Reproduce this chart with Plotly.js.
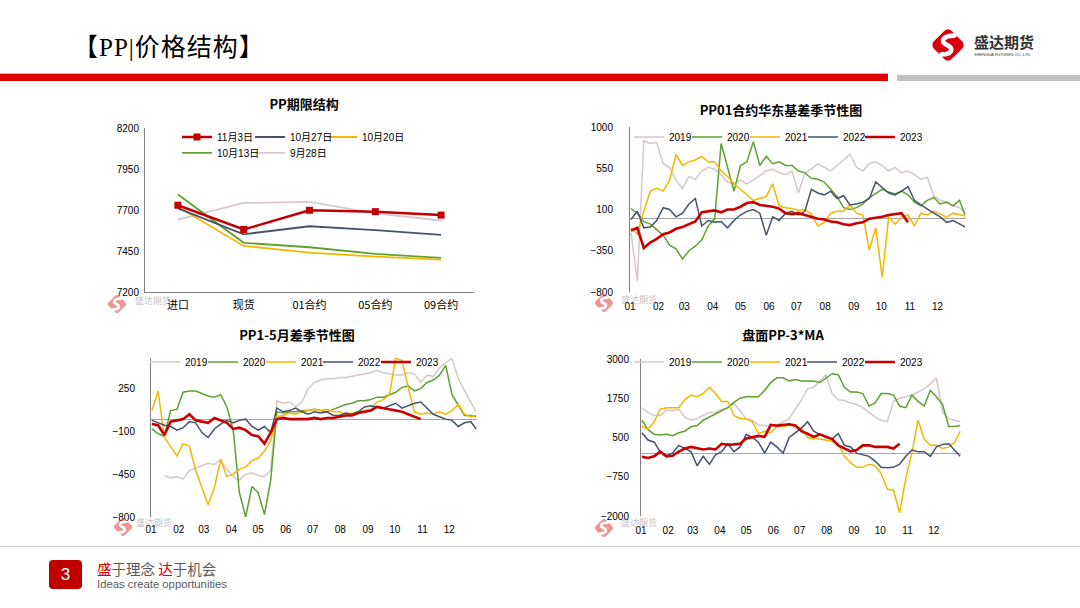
<!DOCTYPE html>
<html><head><meta charset="utf-8">
<script src="https://cdn.plot.ly/plotly-3.0.1.min.js"></script>
<style>
html,body{margin:0;padding:0;background:#fff}
body{width:1080px;height:608px;position:relative;overflow:hidden;font-family:"Noto Sans CJK SC","Liberation Sans",sans-serif}
.chart{position:absolute}
#head-title{position:absolute;left:73px;top:32px;font-size:25px;line-height:31px;letter-spacing:1px;color:#000;font-family:"Liberation Serif","Noto Sans CJK SC",serif;white-space:nowrap}
#bar-red{position:absolute;left:0;top:74px;width:888px;height:7px;background:#e00000}
#bar-red-top{position:absolute;left:0;top:73px;width:888px;height:1px;background:#f2a0a0}
#bar-gray{position:absolute;left:897px;top:75px;width:183px;height:6px;background:#c0c0c0}
#logo{position:absolute;left:927px;top:24px;width:42px;height:42px}
#logo-cn{position:absolute;left:974px;top:33px;font-size:15px;line-height:18px;color:#333;font-weight:bold}
#logo-en{position:absolute;left:974px;top:52px;font-size:4px;line-height:5px;color:#333;font-family:"Liberation Sans",sans-serif;white-space:nowrap}
#foot-line{position:absolute;left:0;top:546px;width:1080px;height:1px;background:#d0d0d0}
#page-no{position:absolute;left:49px;top:560px;width:33px;height:29px;background:#c00000;border-radius:4px;color:#fff;font-family:"Liberation Sans",sans-serif;font-size:17px;line-height:29px;text-align:center}
#slogan{position:absolute;left:97px;top:560px;font-size:14.5px;line-height:17px;color:#595959;white-space:nowrap}
#slogan span{color:#e00000}
#slogan-en{position:absolute;left:97px;top:577px;font-size:11.3px;line-height:14px;color:#595959;font-family:"Liberation Sans",sans-serif;white-space:nowrap}
.wm{position:absolute;width:24px;height:24px;opacity:0.55}
.wmt{position:absolute;font-size:9px;line-height:10px;color:rgba(110,110,110,0.45);white-space:nowrap}
</style></head><body>

<div id="head-title">【PP|价格结构】</div>
<div id="bar-red-top"></div>
<div id="bar-red"></div>
<div id="bar-gray"></div>
<svg id="logo" viewBox="0 0 40 40"><rect x="8" y="8" width="24" height="24" rx="5" transform="rotate(45 20 20)" fill="#d7000f"/><path d="M26,11 C15,11 12,17 19,20 C26,23 24,29 14,29" stroke="#fff" stroke-width="4.5" fill="none" stroke-linecap="round"/></svg>
<div id="logo-cn">盛达期货</div>
<div id="logo-en">SHENGDA FUTURES CO.,LTD.</div>

<div id="c1" class="chart" style="left:100px;top:90px"></div>
<div id="c2" class="chart" style="left:580px;top:95px"></div>
<div id="c3" class="chart" style="left:100px;top:320px"></div>
<div id="c4" class="chart" style="left:580px;top:320px"></div>

<svg class="wm" style="left:105px;top:292px" viewBox="0 0 40 40"><rect x="8" y="8" width="24" height="24" rx="5" transform="rotate(45 20 20)" fill="#e04040"/><path d="M26,11 C15,11 12,17 19,20 C26,23 24,29 14,29" stroke="#fff" stroke-width="4.5" fill="none" stroke-linecap="round"/></svg>
<div class="wmt" style="left:135px;top:296px">盛达期货</div>
<svg class="wm" style="left:592px;top:291px" viewBox="0 0 40 40"><rect x="8" y="8" width="24" height="24" rx="5" transform="rotate(45 20 20)" fill="#e04040"/><path d="M26,11 C15,11 12,17 19,20 C26,23 24,29 14,29" stroke="#fff" stroke-width="4.5" fill="none" stroke-linecap="round"/></svg>
<div class="wmt" style="left:621px;top:295px">盛达期货</div>
<svg class="wm" style="left:111px;top:515px" viewBox="0 0 40 40"><rect x="8" y="8" width="24" height="24" rx="5" transform="rotate(45 20 20)" fill="#e04040"/><path d="M26,11 C15,11 12,17 19,20 C26,23 24,29 14,29" stroke="#fff" stroke-width="4.5" fill="none" stroke-linecap="round"/></svg>
<div class="wmt" style="left:136px;top:518px">盛达期货</div>
<svg class="wm" style="left:592px;top:516px" viewBox="0 0 40 40"><rect x="8" y="8" width="24" height="24" rx="5" transform="rotate(45 20 20)" fill="#e04040"/><path d="M26,11 C15,11 12,17 19,20 C26,23 24,29 14,29" stroke="#fff" stroke-width="4.5" fill="none" stroke-linecap="round"/></svg>
<div class="wmt" style="left:621px;top:518px">盛达期货</div>

<div id="foot-line"></div>
<div id="page-no">3</div>
<div id="slogan"><span>盛</span>于理念 <span>达</span>于机会</div>
<div id="slogan-en">Ideas create opportunities</div>

<script>
// ---------- data: PP term structure ----------
const structCats = ['进口','现货','01合约','05合约','09合约'];
const structNames = ['11月3日','10月27日','10月20日','10月13日','9月28日'];
const structNov3  = [7729,7581,7698,7690,7669];
const structOct27 = [7710,7552,7601,7577,7548];
const structOct20 = [7720,7481,7440,7416,7397];
const structOct13 = [7795,7500,7473,7432,7408];
const structSep28 = [7642,7743,7749,7679,7636];

// ---------- data: seasonal charts (weekly readings) ----------
const years = ['2019','2020','2021','2022','2023'];
const monthLabels = ['01','02','03','04','05','06','07','08','09','10','11','12'];
const weekDates = ['01-02','01-09','01-16','01-23','01-30','02-06','02-13','02-20','02-27','03-06','03-13','03-20','03-27','04-03','04-10','04-17','04-24','05-01','05-08','05-15','05-22','05-29','06-05','06-12','06-19','06-26','07-03','07-10','07-17','07-24','07-31','08-07','08-14','08-21','08-28','09-04','09-11','09-18','09-25','10-02','10-09','10-16','10-23','10-30','11-06','11-13','11-20','11-27','12-04','12-11','12-18','12-25','12-31'];

// PP01 East China basis
const basis2019 = [-150,-680,850,820,830,600,560,420,330,460,430,520,560,540,480,400,380,420,380,420,470,520,540,500,480,520,280,500,540,600,560,520,580,640,700,560,520,600,620,580,520,560,500,520,480,430,450,250,200,180,140,120,60];
const basis2020 = [110,60,-30,-60,-120,-180,-290,-330,-440,-350,-300,-230,-80,0,820,560,300,580,620,840,580,680,600,620,580,580,520,500,440,430,400,320,240,120,100,120,160,230,280,320,290,270,300,260,180,140,200,230,160,180,140,200,40];
const basis2021 = [-100,-170,80,300,330,300,420,700,580,620,640,680,620,620,520,460,380,320,260,200,220,240,380,140,120,110,90,100,50,-80,-40,60,80,80,150,60,40,-340,-100,-640,20,-60,20,40,-80,60,40,80,50,20,60,40,30];
const basis2022 = [-10,80,-100,-90,-20,120,100,20,60,160,220,-80,-20,-40,-30,-100,-20,40,80,100,60,-180,20,-20,60,80,40,80,320,280,260,300,220,250,150,160,180,220,400,340,280,260,300,350,200,150,100,60,20,-40,-20,-60,-90];
const basis2023 = [-130,-100,-320,-260,-220,-170,-150,-110,-90,-60,-30,70,80,90,70,100,100,130,170,180,150,140,130,110,60,50,60,40,20,0,-10,-30,-40,-60,-70,-50,-40,0,10,20,40,50,60,-40,null,null,null,null,null,null,null,null,null];

// PP 1-5 spread
const spread2019 = [null,null,-460,-480,-470,-490,-420,-400,-380,-360,-370,-330,-410,-470,-500,-450,-440,-460,-470,-420,150,130,140,100,140,250,300,320,330,330,340,340,350,360,370,380,400,380,370,360,360,380,370,300,360,350,420,460,500,330,230,140,60];
const spread2020 = [-80,-120,-140,70,80,220,230,230,210,190,180,200,100,-90,-600,-800,-550,-600,-780,-500,60,50,60,60,70,70,80,70,60,80,100,120,130,150,150,160,180,180,200,220,260,270,230,250,300,320,360,440,200,110,30,30,20];
const spread2021 = [70,230,-150,-230,-300,-200,-220,-420,-560,-700,-560,-330,-470,-450,-410,-390,-340,-320,-260,-180,20,30,50,40,60,70,80,70,80,60,60,40,50,50,70,80,140,160,200,500,480,260,60,40,50,40,60,40,70,120,40,20,30];
const spread2022 = [-10,-30,-50,-60,-90,-70,-20,-30,-110,-150,-80,-40,-10,-30,-10,0,-60,-90,-60,-110,90,60,70,90,60,40,60,50,60,30,30,50,40,60,100,110,100,90,110,130,90,110,130,140,90,40,20,0,-10,-60,-30,-20,-80];
const spread2023 = [-40,-50,-130,-20,-10,0,40,-10,-20,-30,10,-10,-30,-80,-70,-90,-130,-140,-200,-110,0,10,0,0,0,0,10,0,10,10,20,30,30,50,60,70,100,90,80,70,60,40,20,0,null,null,null,null,null,null,null,null,null];

// PP futures - 3*MA
const pmma2019 = [1450,1300,1200,1200,1380,1350,1400,1150,1050,1100,1200,1300,1300,1400,1450,1580,1350,1100,1050,900,880,850,900,1000,1100,1400,1700,2050,2100,2300,2500,1900,1700,1680,1600,1550,1450,1300,1150,1050,1000,1650,1750,1800,1850,1950,2050,2200,2400,1300,1100,1050,1000];
const pmma2020 = [1050,750,600,580,600,560,650,700,840,880,1050,1150,1250,1350,1450,1620,1750,1800,1800,1800,2000,2250,2400,2400,2300,2350,2300,2300,2300,2250,2400,2530,2500,2100,1950,1950,1900,1500,1600,1900,1900,1850,1500,1450,1850,1650,1500,2000,1800,1550,850,850,880];
const pmma2021 = [860,760,1000,1400,1450,1450,1450,1700,1850,1800,1900,2100,1900,1650,1650,1200,1100,1100,1000,630,700,650,850,850,900,850,800,500,450,450,420,380,300,-100,-300,-450,-450,-350,-400,-650,-1150,-1180,-1900,-800,0,1050,450,250,250,150,200,350,700];
const pmma2022 = [650,420,350,40,-80,0,250,150,50,-400,-100,-350,-50,50,300,50,200,600,500,350,0,350,200,0,500,650,800,1000,700,600,500,450,630,250,200,0,-50,-100,-250,-450,-460,-450,-350,-100,100,50,50,-100,200,280,300,100,-100];
const pmma2023 = [-115,-150,-100,50,-100,-80,50,150,200,150,120,150,120,300,270,280,300,470,500,550,520,900,880,900,920,880,700,620,520,600,520,450,250,150,60,100,250,250,200,200,200,150,300,null,null,null,null,null,null,null,null,null,null];

// ---------- styling ----------
const CJK = '"Noto Sans CJK SC", "Liberation Sans", sans-serif';
const NUM = '"Liberation Sans", "Noto Sans CJK SC", sans-serif';
const yearColors = ['#d6c6cb','#5ea12e','#f2b800','#44546a','#c80000'];
const yearWidths = [1.5,1.5,1.5,1.5,2.6];
const structColors = ['#c00000','#44546a','#f2b800','#5ea12e','#d9c9cd'];
const cfg = {staticPlot:true, displayModeBar:false};

function legendAt(x, y, font){
  return {orientation:'h', x:x, xanchor:'left', y:y, yanchor:'middle', bgcolor:'rgba(0,0,0,0)', borderwidth:0, font:font};
}
function legendId(i){ return i===0 ? 'legend' : 'legend'+(i+1); }

// ---------- chart 1 ----------
(function(){
  const plotW = 329;
  const legPos = [[72,0.945],[145,0.945],[217,0.945],[72,0.848],[145,0.848]];
  const series = [structNov3, structOct27, structOct20, structOct13, structSep28];
  const traces = series.map((v,i)=>({
    type:'scatter', x:structCats, y:v, name:structNames[i],
    mode: i===0 ? 'lines+markers' : 'lines',
    line:{color:structColors[i], width: i===0 ? 2.5 : 1.8},
    marker:{symbol:'square', size:7, color:structColors[i]},
    legend: legendId(i), hoverinfo:'skip'
  }));
  const ordered = [traces[4],traces[3],traces[2],traces[1],traces[0]];
  const layout = {
    width:380, height:230, margin:{l:45,r:6,t:38,b:28,pad:0},
    paper_bgcolor:'rgba(0,0,0,0)', plot_bgcolor:'rgba(0,0,0,0)',
    title:{text:'<b>PP期限结构</b>', x:0.537, xref:'container', xanchor:'center', y:0.939, yref:'container', yanchor:'middle', font:{family:CJK, size:13, color:'#000'}},
    showlegend:true,
    xaxis:{type:'category', range:[-0.5,4.5], showgrid:false, zeroline:false, showline:true, linecolor:'#7f7f7f', linewidth:1, ticks:'', tickfont:{family:CJK, size:11, color:'#000'}, ticklabelstandoff:3},
    yaxis:{range:[7200,8200], tickvals:[7200,7450,7700,7950,8200], showgrid:false, zeroline:false, showline:true, linecolor:'#7f7f7f', linewidth:1, ticks:'', tickfont:{family:NUM, size:10, color:'#000'}, ticklabelstandoff:3}
  };
  legPos.forEach((p,i)=>{ layout[legendId(i)] = legendAt((p[0]-40)/plotW, p[1], {family:NUM, size:10, color:'#000'}); });
  Plotly.newPlot('c1', ordered, layout, cfg);
})();

// ---------- seasonal charts ----------
function seasonal(id, seriesList, o){
  const xs = weekDates.map(d => '2001-' + d);
  const plotW = o.w - o.l - o.r;
  const traces = seriesList.map((v,i)=>({
    type:'scatter', mode:'lines', x:xs, y:v, name:years[i], legend:legendId(i),
    line:{color:yearColors[i], width:yearWidths[i]}, connectgaps:false, hoverinfo:'skip'
  }));
  const layout = {
    width:o.w, height:o.h, margin:{l:o.l,r:o.r,t:o.t,b:o.b,pad:0},
    paper_bgcolor:'rgba(0,0,0,0)', plot_bgcolor:'rgba(0,0,0,0)',
    title:{text:'<b>'+o.title+'</b>', x:o.tx, xref:'container', xanchor:'center', y:o.ty, yref:'container', yanchor:'middle', font:{family:CJK, size:13, color:'#000'}},
    showlegend:true,
    xaxis:{type:'date', range:['2001-01-01','2002-01-01'], tickvals:monthLabels.map(m=>'2001-'+m+'-01'), ticktext:monthLabels,
      showgrid:false, zeroline:false, showline:false, ticks:'', tickfont:{family:NUM, size:10, color:'#000'}, ticklabelstandoff:o.xs},
    yaxis:{range:o.yr, tickvals:o.yt, showgrid:false, zeroline:true, zerolinecolor:'#a6a6a6', zerolinewidth:1,
      showline:true, linecolor:'#7f7f7f', linewidth:1, ticks:'', tickfont:{family:NUM, size:10, color:'#000'}, ticklabelstandoff:o.ys}
  };
  o.leg.forEach((t,i)=>{ layout[legendId(i)] = legendAt((t-40)/plotW, o.ly, {family:NUM, size:10, color:'#000'}); });
  Plotly.newPlot(id, traces, layout, cfg);
}

seasonal('c2', [basis2019,basis2020,basis2021,basis2022,basis2023], {
  w:400,h:225,l:50,r:14,t:32,b:28, title:'PP01合约华东基差季节性图', tx:0.5025, ty:0.933,
  leg:[39,97,155,213,270], ly:0.939, yr:[-800,1000], yt:[-800,-350,100,550,1000], ys:14, xs:7});
seasonal('c3', [spread2019,spread2020,spread2021,spread2022,spread2023], {
  w:390,h:220,l:51,r:13,t:38,b:23, title:'PP1-5月差季节性图', tx:0.505, ty:0.932,
  leg:[34,92,150,207,265], ly:0.975, yr:[-800,500], yt:[-800,-450,-100,250], ys:13, xs:5});
seasonal('c4', [pmma2019,pmma2020,pmma2021,pmma2022,pmma2023], {
  w:400,h:220,l:61,r:19,t:39,b:24, title:'盘面PP-3*MA', tx:0.5075, ty:0.932,
  leg:[28,86,144,201,259], ly:0.981, yr:[-2000,3000], yt:[-2000,-750,500,1750,3000], ys:9, xs:7});
</script>
</body></html>
